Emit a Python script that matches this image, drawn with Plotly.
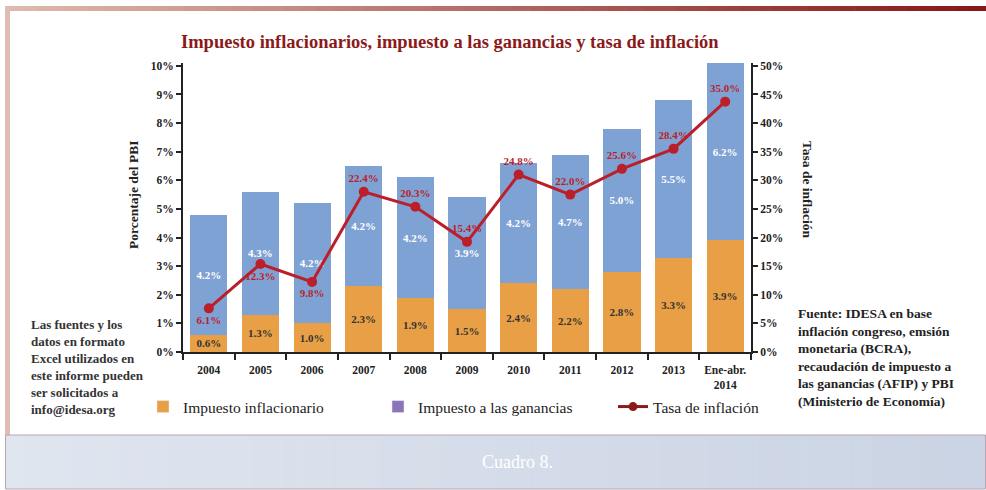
import plotly.graph_objects as go

# ---------------- data ----------------
categories = ["2004", "2005", "2006", "2007", "2008", "2009", "2010", "2011", "2012", "2013", "Ene-abr.<br>2014"]
impuesto_inflacionario = [0.6, 1.3, 1.0, 2.3, 1.9, 1.5, 2.4, 2.2, 2.8, 3.3, 3.9]
impuesto_ganancias = [4.2, 4.3, 4.2, 4.2, 4.2, 3.9, 4.2, 4.7, 5.0, 5.5, 6.2]
tasa_inflacion = [6.1, 12.3, 9.8, 22.4, 20.3, 15.4, 24.8, 22.0, 25.6, 28.4, 35.0]
label_pos = ["bottom center"] * 3 + ["top center"] * 8

left_tickvals = [0, 1, 2, 3, 4, 5, 6, 7, 8, 9, 10]
left_ticktext = ["0%", "1%", "2%", "3%", "4%", "5%", "6%", "7%", "8%", "9%", "10%"]
right_tickvals = [0, 4, 8, 12, 16, 20, 24, 28, 32, 36, 40]
right_ticktext = ["0%", "5%", "10%", "15%", "20%", "25%", "30%", "35%", "40%", "45%", "50%"]

# ---------------- layout constants ----------------
W, H = 986, 490
L, R, T, B = 183, 751, 63, 352
PW, PH = R - L, B - T

def px(xp):
    return (xp - L) / PW

def py(yp):
    return (B - yp) / PH

SERIF = "Liberation Serif"
ORANGE = "#e89f45"
BLUE = "#7fa2d4"
PURPLE = "#8b74b7"
RED = "#bb1f2a"
DARKRED = "#8b1a1a"

fig = go.Figure()

fig.add_trace(go.Bar(
    x=categories, y=impuesto_inflacionario, name="Impuesto inflacionario",
    marker=dict(color=ORANGE, line=dict(width=0)),
    texttemplate="%{y:.1f}%", textposition="inside", insidetextanchor="middle",
    textangle=0, constraintext="none",
    textfont=dict(family=SERIF, size=11, color="#333333", weight="bold"),
    showlegend=False, hoverinfo="skip"))
fig.add_trace(go.Bar(
    x=categories, y=impuesto_ganancias, name="Impuesto a las ganancias",
    marker=dict(color=BLUE, line=dict(width=0)),
    texttemplate="%{y:.1f}%", textposition="inside", insidetextanchor="middle",
    textangle=0, constraintext="none",
    textfont=dict(family=SERIF, size=11, color="white", weight="bold"),
    showlegend=False, hoverinfo="skip"))
fig.add_trace(go.Scatter(
    x=categories, y=tasa_inflacion, yaxis="y2", mode="lines+markers+text",
    line=dict(color=RED, width=3), marker=dict(color=RED, size=10),
    text=[f"{v:.1f}%" for v in tasa_inflacion], textposition=label_pos,
    textfont=dict(family=SERIF, size=11, color=RED, weight="bold"),
    showlegend=False, hoverinfo="skip"))

# legend entries
fig.add_trace(go.Bar(x=[None], y=[None], name="Impuesto inflacionario",
                     marker=dict(color=ORANGE), showlegend=True))
fig.add_trace(go.Bar(x=[None], y=[None], name="Impuesto a las ganancias",
                     marker=dict(color=PURPLE), showlegend=True))
fig.add_trace(go.Scatter(x=[None], y=[None], name="Tasa de inflación", yaxis="y2",
                         mode="lines+markers", line=dict(color=DARKRED, width=3),
                         marker=dict(color=DARKRED, size=9), showlegend=True))

shapes = []
# top gradient band
c0 = (222, 186, 174)
c1 = (135, 24, 24)
n = 60
x0p, x1p = 5, 986
for i in range(n):
    t = i / (n - 1)
    col = tuple(int(c0[k] + (c1[k] - c0[k]) * t) for k in range(3))
    xa = x0p + (x1p - x0p) * i / n
    xb = x0p + (x1p - x0p) * (i + 1) / n + 0.6
    shapes.append(dict(type="rect", xref="paper", yref="paper",
                       x0=px(xa), x1=px(xb), y0=py(11), y1=py(6),
                       fillcolor="rgb(%d,%d,%d)" % col, line=dict(width=0), layer="below"))
# left strip
shapes.append(dict(type="rect", xref="paper", yref="paper",
                   x0=px(5), x1=px(10), y0=py(435), y1=py(6),
                   fillcolor="#dfbdb2", line=dict(width=0), layer="below"))
# bottom banner gradient
b0 = (224, 230, 240)
b1 = (203, 212, 228)
for i in range(n):
    t = i / (n - 1)
    col = tuple(int(b0[k] + (b1[k] - b0[k]) * t) for k in range(3))
    xa = x0p + (x1p - x0p) * i / n
    xb = x0p + (x1p - x0p) * (i + 1) / n + 0.6
    shapes.append(dict(type="rect", xref="paper", yref="paper",
                       x0=px(xa), x1=px(xb), y0=py(489), y1=py(435),
                       fillcolor="rgb(%d,%d,%d)" % col, line=dict(width=0), layer="below"))
shapes.append(dict(type="rect", xref="paper", yref="paper",
                   x0=px(5.5), x1=px(985.5), y0=py(489), y1=py(435),
                   fillcolor="rgba(0,0,0,0)", line=dict(color="#b9a6b2", width=1), layer="below"))

annotations = [
    dict(text="<b>Impuesto inflacionarios, impuesto a las ganancias y tasa de inflación</b>",
         xref="paper", yref="paper", x=px(450), y=py(42), showarrow=False,
         xanchor="center", yanchor="middle",
         font=dict(family=SERIF, size=18.5, color=DARKRED)),
    dict(text="<b>Porcentaje del PBI</b>", xref="paper", yref="paper",
         x=px(133), y=py(195), showarrow=False, textangle=-90,
         xanchor="center", yanchor="middle",
         font=dict(family=SERIF, size=13.5, color="#222222")),
    dict(text="<b>Tasa de inflación</b>", xref="paper", yref="paper",
         x=px(808), y=py(190), showarrow=False, textangle=90,
         xanchor="center", yanchor="middle",
         font=dict(family=SERIF, size=13.5, color="#222222")),
    dict(text="<b>Las fuentes y los<br>datos en formato<br>Excel utilizados en<br>este informe pueden<br>ser solicitados a<br>info@idesa.org</b>",
         xref="paper", yref="paper", x=px(29), y=py(367), showarrow=False,
         xanchor="left", yanchor="middle", align="left",
         font=dict(family=SERIF, size=13, color="#333333")),
    dict(text="<b>Fuente: IDESA en base<br>inflación congreso, emsión<br>monetaria (BCRA),<br>recaudación de impuesto a<br>las ganancias (AFIP) y PBI<br>(Ministerio de Economía)</b>",
         xref="paper", yref="paper", x=px(796), y=py(357), showarrow=False,
         xanchor="left", yanchor="middle", align="left",
         font=dict(family=SERIF, size=13.5, color="#222222")),
    dict(text="Cuadro 8.", xref="paper", yref="paper", x=px(517), y=py(462),
         showarrow=False, xanchor="center", yanchor="middle",
         font=dict(family=SERIF, size=18, color="white")),
]

fig.update_layout(
    width=W, height=H,
    margin=dict(l=L, r=W - R, t=T, b=H - B, pad=0, autoexpand=False),
    paper_bgcolor="white", plot_bgcolor="white",
    barmode="stack", bargap=0.28,
    uniformtext=dict(minsize=11, mode="show"),
    font=dict(family=SERIF, color="#222222"),
    xaxis=dict(type="category", range=[-0.5, len(categories) - 0.5],
               showline=True, linecolor="#222222", linewidth=2,
               ticks="outside", tickson="boundaries", ticklen=6, tickwidth=2,
               tickcolor="#222222", showgrid=False, zeroline=False, tickangle=0,
               automargin=False, ticklabelstandoff=6,
               tickfont=dict(family=SERIF, size=11.5, color="#222222", weight="bold")),
    yaxis=dict(range=[0, 10.1], tickvals=left_tickvals, ticktext=left_ticktext,
               showline=True, linecolor="#222222", linewidth=2, ticks="outside",
               ticklen=5, tickwidth=2, tickcolor="#222222", showgrid=False,
               zeroline=False, automargin=False,
               tickfont=dict(family=SERIF, size=11.5, color="#222222", weight="bold")),
    yaxis2=dict(range=[0, 40.4], tickvals=right_tickvals, ticktext=right_ticktext,
                overlaying="y", side="right",
                showline=True, linecolor="#222222", linewidth=2, ticks="outside",
                ticklen=5, tickwidth=2, tickcolor="#222222", showgrid=False,
                zeroline=False, automargin=False,
                tickfont=dict(family=SERIF, size=11.5, color="#222222", weight="bold")),
    legend=dict(orientation="h", x=px(143), y=py(407), xanchor="left", yanchor="middle",
                font=dict(family=SERIF, size=15.5, color="#222222"),
                entrywidth=190, entrywidthmode="pixels",
                bgcolor="rgba(0,0,0,0)", traceorder="normal"),
    shapes=shapes, annotations=annotations,
)

fig.write_html("out.html", config={"displayModeBar": False},
               post_script="document.body.style.margin='0';document.body.style.overflow='hidden';")
